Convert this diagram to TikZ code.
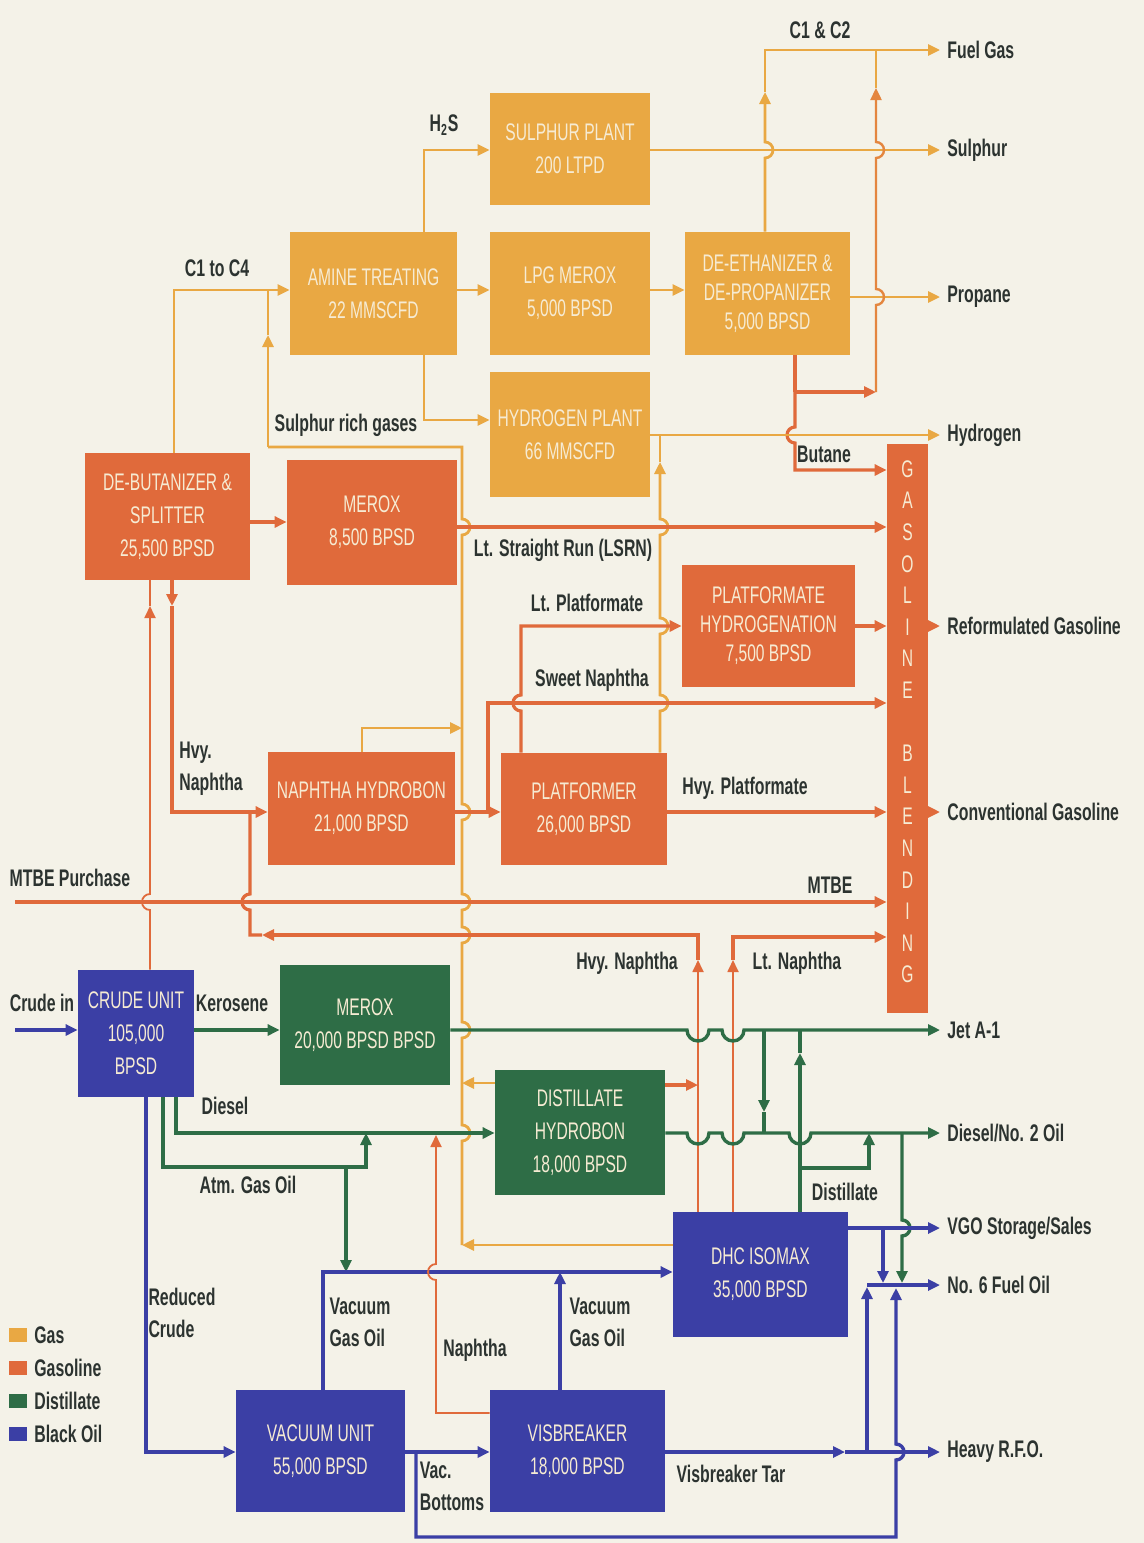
\documentclass[tikz,border=0pt]{standalone}
\usepackage{fontspec}
\setmainfont{Liberation Sans}
\newfontfamily\labfont{Liberation Sans}[FakeStretch=0.66]
\newfontfamily\boxfont{Liberation Sans}[FakeStretch=0.65]
\usetikzlibrary{arrows.meta}
\definecolor{bgc}{HTML}{F4F2E8}
\definecolor{gasc}{HTML}{E9A843}
\definecolor{gslc}{HTML}{E06A3B}
\definecolor{disc}{HTML}{2E6D46}
\definecolor{blkc}{HTML}{3B3FA5}
\definecolor{boxtxt}{HTML}{F6EBD3}
\definecolor{labc}{HTML}{2C3330}
\newcommand{\hupR}[2]{-- (#1,#2+8) arc[start angle=90,end angle=-90,radius=8]}
\newcommand{\hupL}[2]{-- (#1,#2+8) arc[start angle=90,end angle=270,radius=8]}
\newcommand{\hdnR}[2]{-- (#1,#2-8) arc[start angle=-90,end angle=90,radius=8]}
\newcommand{\hdnL}[2]{-- (#1,#2-8) arc[start angle=270,end angle=90,radius=8]}
\newcommand{\dipR}[2]{-- (#1-11,#2) arc[start angle=180,end angle=0,radius=11]}
\newcommand{\ubox}[7]{\node[unitbox,fill=#6,minimum width={(#4-#2)*0.5pt},minimum height={(#5-#3)*0.5pt}] (#1) at ({(#2+#4)/2},{(#3+#5)/2}) {#7};}
\tikzset{
  unitbox/.style={rectangle, inner sep=2pt, text=boxtxt, align=center, font=\boxfont\fontsize{12}{16.5}\selectfont},
  tight/.style={font=\boxfont\fontsize{12}{14.5}\selectfont},
  lab/.style={text=labc, font=\labfont\bfseries\fontsize{12}{16}\selectfont, inner sep=0pt, align=center},
  outl/.style={lab, anchor=west},
  gbl/.style={text=boxtxt, font=\boxfont\fontsize{12}{14}\selectfont, inner sep=0pt},
  tip/.style={-{Triangle[length=6pt,width=5.5pt]}},
  gl/.style={draw=gasc, line width=1.4pt},
  gsl/.style={draw=gslc, line width=1.6pt},
  gslt/.style={draw=gslc, line width=0.9pt},
  dl/.style={draw=disc, line width=1.7pt},
  bl/.style={draw=blkc, line width=1.7pt},
  legsq/.style={rectangle, inner sep=0pt, minimum width=9pt, minimum height=7pt},
}
\begin{document}
\begin{tikzpicture}[x=0.5pt,y=-0.5pt]
\path[use as bounding box] (0,0) rectangle (1144,1543);
\fill[bgc] (0,0) rectangle (1144,1543);

% ---------------- units ----------------
\ubox{sulph}{490}{93}{650}{205}{gasc}{SULPHUR PLANT\\200 LTPD}
\ubox{amine}{290}{232}{457}{355}{gasc}{AMINE TREATING\\22 MMSCFD}
\ubox{lpg}{490}{232}{650}{355}{gasc}{LPG MEROX\\5,000 BPSD}
\node[unitbox,tight,fill=gasc,minimum width=82.5pt,minimum height=61.5pt] (deeth) at (767.5,293.5) {DE-ETHANIZER \&\\DE-PROPANIZER\\5,000 BPSD};
\ubox{htwo}{490}{372}{650}{497}{gasc}{HYDROGEN PLANT\\66 MMSCFD}
\ubox{debut}{85}{453}{250}{580}{gslc}{DE-BUTANIZER \&\\SPLITTER\\25,500 BPSD}
\ubox{meroxg}{287}{460}{457}{585}{gslc}{MEROX\\8,500 BPSD}
\node[unitbox,tight,fill=gslc,minimum width=86.5pt,minimum height=61pt] (phyd) at (768.5,626) {PLATFORMATE\\HYDROGENATION\\7,500 BPSD};
\ubox{nh}{268}{752}{455}{865}{gslc}{NAPHTHA HYDROBON\\21,000 BPSD}
\ubox{plat}{501}{753}{667}{865}{gslc}{PLATFORMER\\26,000 BPSD}
\ubox{gb}{887}{444}{928}{1013}{gslc}{}
\ubox{crude}{78}{970}{194}{1097}{blkc}{CRUDE UNIT\\105,000\\BPSD}
\ubox{meroxk}{280}{965}{450}{1085}{disc}{MEROX\\20,000 BPSD BPSD}
\ubox{dh}{495}{1070}{665}{1195}{disc}{DISTILLATE\\HYDROBON\\18,000 BPSD}
\ubox{dhc}{673}{1212}{848}{1337}{blkc}{DHC ISOMAX\\35,000 BPSD}
\ubox{vac}{236}{1390}{405}{1512}{blkc}{VACUUM UNIT\\55,000 BPSD}
\ubox{vis}{490}{1390}{665}{1512}{blkc}{VISBREAKER\\18,000 BPSD}
\foreach \ch [count=\i] in {G,A,S,O,L,I,N,E,{},B,L,E,N,D,I,N,G}
  \node[gbl] (gbl\i) at (907.5,{469+(\i-1)*31.6}) {\ch};

% ---------------- gas ----------------
\coordinate (h2sk) at (424,150);
\draw[gl,tip] (amine.north -| h2sk) -- (h2sk) -- (sulph.west |- h2sk);
\coordinate (osul) at (940,150);
\draw[gl,tip] (sulph.east |- osul) -- (osul);
\coordinate (c14) at (174,290);
\draw[gl,tip] (debut.north -| c14) -- (c14) -- (amine.west |- c14);
\draw[gl,tip] (amine.east |- c14) -- (lpg.west |- c14);
\draw[gl,tip] (lpg.east |- c14) -- (deeth.west |- c14);
\coordinate (opro) at (940,297);
\draw[gl,tip] (deeth.east |- opro) -- (opro);
\coordinate (fga) at (765,92);
\coordinate (fgt) at (765,50);
\coordinate (ofg) at (940,50);
\draw[gl,tip] (deeth.north -| fga) \hupR{765}{150} -- (fga);
\draw[gl,tip] (fga) -- (fgt) -- (ofg);
\coordinate (jb) at (795,392);
\coordinate (jc) at (876,392);
\coordinate (jca) at (876,88);
\draw[gsl] (deeth.south -| jb) -- (jb);
\draw[gsl,tip] (jb) -- (jc);
\draw[draw=gslc!55!gasc,line width=1.2pt,tip] (jc) \hupR{876}{297} \hupR{876}{150} -- (jca);
\draw[gl] (jca) -- (jca |- fgt);
\coordinate (bu) at (795,470);
\draw[gsl,tip] (jb) \hdnL{795}{435} -- (bu) -- (gb.west |- bu);
\coordinate (oh2) at (940,435);
\draw[gl,tip] (htwo.east |- oh2) -- (oh2);
\coordinate (ah) at (424,420);
\draw[gl,tip] (amine.south -| ah) -- (ah) -- (htwo.west |- ah);

% gas collector (sulphur rich gases)
\coordinate (colb) at (462,1245);
\coordinate (colt) at (462,447);
\coordinate (coll) at (268,447);
\coordinate (colarr) at (268,335);
\draw[gl] (colb) \hupR{462}{1133} \hupR{462}{1030} \hupR{462}{935} \hupR{462}{902} \hupR{462}{812} \hupR{462}{527} -- (colt) -- (coll);
\draw[gl,tip] (coll) -- (colarr);
\draw[gl] (colarr) -- (colarr |- c14);
\draw[gl,tip] (dhc.west |- colb) -- (colb);
\coordinate (dhg) at (462,1083);
\draw[gl,tip] (dh.west |- dhg) -- (dhg);
\coordinate (nhg) at (362,728);
\draw[gl,tip] (nh.north -| nhg) -- (nhg) -- (nhg -| colt);
\coordinate (pha) at (660,462);
\draw[gl,tip] (plat.north -| pha) \hupR{660}{703} \hupR{660}{626} \hupR{660}{527} -- (pha);
\draw[gl] (pha) -- (pha |- oh2);

% ---------------- gasoline ----------------
\coordinate (dm) at (270,522);
\draw[gsl,tip] (debut.east |- dm) -- (meroxg.west |- dm);
\coordinate (lsrn) at (700,527);
\draw[gsl,tip] (meroxg.east |- lsrn) -- (gb.west |- lsrn);
\coordinate (cdk) at (150,606);
\draw[gslt,tip] (crude.north -| cdk) \hupL{150}{902} -- (cdk);
\draw[gslt] (cdk) -- (debut.south -| cdk);
\coordinate (hn1) at (172,606);
\coordinate (hn2) at (172,812);
\draw[gsl,tip] (debut.south -| hn1) -- (hn1);
\draw[gsl,tip] (hn1) -- (hn2) -- (nh.west |- hn2);
\coordinate (rv) at (698,960);
\coordinate (rl) at (262,935);
\draw[gslt,tip] (dhc.north -| rv) -- (rv);
\draw[gsl,tip] (rv) -- (rv |- rl) -- (rl);
\draw[gsl] (rl) -- (250,935) \hupL{250}{902} -- (250,812);
\coordinate (lnv) at (733,960);
\coordinate (lnh) at (733,937);
\draw[gslt,tip] (dhc.north -| lnv) -- (lnv);
\draw[gsl,tip] (lnv) -- (lnh) -- (gb.west |- lnh);
\coordinate (dho) at (698,1085);
\draw[gsl,tip] (dh.east |- dho) -- (dho);
\coordinate (mt0) at (15,902);
\draw[gsl,tip] (mt0) -- (gb.west |- mt0);
\coordinate (np) at (488,812);
\draw[gsl,tip] (nh.east |- np) -- (plat.west |- np);
\coordinate (sn) at (488,703);
\draw[gsl,tip] (np) -- (sn) -- (gb.west |- sn);
\coordinate (lp) at (521,626);
\draw[gsl,tip] (plat.north -| lp) \hupL{521}{703} -- (lp) -- (phyd.west |- lp);
\coordinate (orf) at (940,626);
\draw[gsl,tip] (phyd.east |- orf) -- (gb.west |- orf);
\draw[gsl,tip] (gb.east |- orf) -- (orf);
\coordinate (ocg) at (940,812);
\draw[gsl,tip] (plat.east |- ocg) -- (gb.west |- ocg);
\draw[gsl,tip] (gb.east |- ocg) -- (ocg);

% ---------------- distillate ----------------
\coordinate (cin) at (15,1030);
\draw[bl,tip] (cin) -- (crude.west |- cin);
\draw[dl,tip] (crude.east |- cin) -- (meroxk.west |- cin);
\coordinate (ojet) at (940,1030);
\draw[dl,tip] (meroxk.east |- ojet) \dipR{698}{1030} \dipR{733}{1030} -- (ojet);
\coordinate (jd1) at (764,1030);
\coordinate (jd2) at (764,1112);
\draw[dl,tip] (jd1) -- (jd2);
\draw[dl] (jd2) -- (764,1133);
\coordinate (dd1) at (800,1053);
\draw[dl,tip] (dhc.north -| dd1) -- (dd1);
\draw[dl] (dd1) -- (dd1 |- ojet);
\coordinate (dd2) at (800,1168);
\coordinate (dd3) at (869,1168);
\coordinate (dd4) at (869,1133);
\draw[dl,tip] (dd2) -- (dd3) -- (dd4);
\coordinate (ds1) at (176,1133);
\draw[dl,tip] (crude.south -| ds1) -- (ds1) -- (dh.west |- ds1);
\coordinate (ag1) at (163,1167);
\coordinate (ag2) at (366,1167);
\draw[dl,tip] (crude.south -| ag1) -- (ag1) -- (ag2) -- (ag2 |- ds1);
\coordinate (ag3) at (346,1167);
\coordinate (vg1) at (323,1272);
\draw[dl,tip] (ag3) -- (ag3 |- vg1);
\coordinate (odsl) at (940,1133);
\draw[dl,tip] (dh.east |- odsl) \dipR{698}{1133} \dipR{733}{1133} \dipR{800}{1133} -- (odsl);
\coordinate (gn1) at (902,1133);
\coordinate (gn2) at (902,1283);
\draw[dl,tip] (gn1) \hdnR{902}{1228} -- (gn2);

% ---------------- black oil ----------------
\coordinate (rc1) at (146,1452);
\draw[bl,tip] (crude.south -| rc1) -- (rc1) -- (vac.west |- rc1);
\draw[bl,tip] (vac.north -| vg1) -- (vg1) -- (dhc.west |- vg1);
\coordinate (vg2) at (560,1272);
\draw[bl,tip] (vis.north -| vg2) -- (vg2);
\coordinate (vb) at (416,1452);
\draw[bl,tip] (vac.east |- vb) -- (vis.west |- vb);
\coordinate (vb2) at (416,1537);
\coordinate (vb3) at (896,1537);
\coordinate (vb4) at (896,1288);
\draw[bl,tip] (vb) -- (vb2) -- (vb3) \hupR{896}{1452} -- (vb4);
\coordinate (tm) at (845,1452);
\coordinate (orfo) at (940,1452);
\draw[bl,tip] (vis.east |- tm) -- (tm);
\draw[bl,tip] (tm) -- (orfo);
\coordinate (t6) at (867,1452);
\coordinate (n6a) at (867,1287);
\draw[bl,tip] (t6) -- (n6a);
\coordinate (ovgo) at (940,1228);
\draw[bl,tip] (dhc.east |- ovgo) -- (ovgo);
\coordinate (v6) at (883,1228);
\coordinate (v6b) at (883,1283);
\draw[bl,tip] (v6) -- (v6b);
\coordinate (on6) at (940,1285);
\draw[bl,tip] (n6a |- on6) -- (on6);
\coordinate (nap1) at (436,1413);
\coordinate (nap2) at (436,1135);
\draw[gslt,tip] (vis.west |- nap1) -- (nap1) \hupL{436}{1272} -- (nap2);

% ---------------- labels ----------------
\node[lab] (lc12) at (820,30) {C1 \& C2};
\node[lab] (lh2s) at (444,125) {H\textsubscript{2}S};
\node[lab] (lc14) at (217,268) {C1 to C4};
\node[lab] (lsrg) at (346,425) {Sulphur rich gases};
\node[lab] (lbut) at (824,454) {Butane};
\node[lab] (llsrn) at (563,550) {Lt. Straight Run (LSRN)};
\node[lab] (llp) at (587,603) {Lt. Platformate};
\node[lab] (lsn) at (592,680) {Sweet Naphtha};
\node[lab, align=left, anchor=north west] (lhn) at (179,742) {Hvy.\\Naphtha};
\node[lab] (lhp) at (745,788) {Hvy. Platformate};
\node[lab] (lmp) at (70,878) {MTBE Purchase};
\node[lab] (lmt) at (830,885) {MTBE};
\node[lab] (lhvn) at (627,963) {Hvy. Naphtha};
\node[lab] (lltn) at (797,963) {Lt. Naphtha};
\node[lab] (lcin) at (42,1003) {Crude in};
\node[lab] (lker) at (232,1003) {Kerosene};
\node[lab] (ldie) at (225,1106) {Diesel};
\node[lab] (lago) at (248,1185) {Atm. Gas Oil};
\node[lab] (ldst) at (845,1192) {Distillate};
\node[lab, align=left] (lrc) at (182,1313) {Reduced\\Crude};
\node[lab, align=left] (lvgo1) at (360,1322) {Vacuum\\Gas Oil};
\node[lab] (lnap) at (475,1350) {Naphtha};
\node[lab, align=left] (lvgo2) at (600,1322) {Vacuum\\Gas Oil};
\node[lab, align=left] (lvb) at (452,1486) {Vac.\\Bottoms};
\node[lab] (lvt) at (731,1474) {Visbreaker Tar};

\node[outl] (ofgl) at (947,50) {Fuel Gas};
\node[outl] (osull) at (947,150) {Sulphur};
\node[outl] (oprol) at (947,297) {Propane};
\node[outl] (oh2l) at (947,435) {Hydrogen};
\node[outl] (orfl) at (947,626) {Reformulated Gasoline};
\node[outl] (ocgl) at (947,812) {Conventional Gasoline};
\node[outl] (ojetl) at (947,1030) {Jet A-1};
\node[outl] (odsll) at (947,1133) {Diesel/No. 2 Oil};
\node[outl] (ovgol) at (947,1228) {VGO Storage/Sales};
\node[outl] (on6l) at (947,1285) {No. 6 Fuel Oil};
\node[outl] (orfol) at (947,1452) {Heavy R.F.O.};

% ---------------- legend ----------------
\node[legsq, fill=gasc] (lg1) at (18,1335) {};
\node[legsq, fill=gslc] (lg2) at (18,1368) {};
\node[legsq, fill=disc] (lg3) at (18,1401) {};
\node[legsq, fill=blkc] (lg4) at (18,1434) {};
\node[outl] (lgt1) at (34,1335) {Gas};
\node[outl] (lgt2) at (34,1368) {Gasoline};
\node[outl] (lgt3) at (34,1401) {Distillate};
\node[outl] (lgt4) at (34,1434) {Black Oil};
\end{tikzpicture}
\end{document}
